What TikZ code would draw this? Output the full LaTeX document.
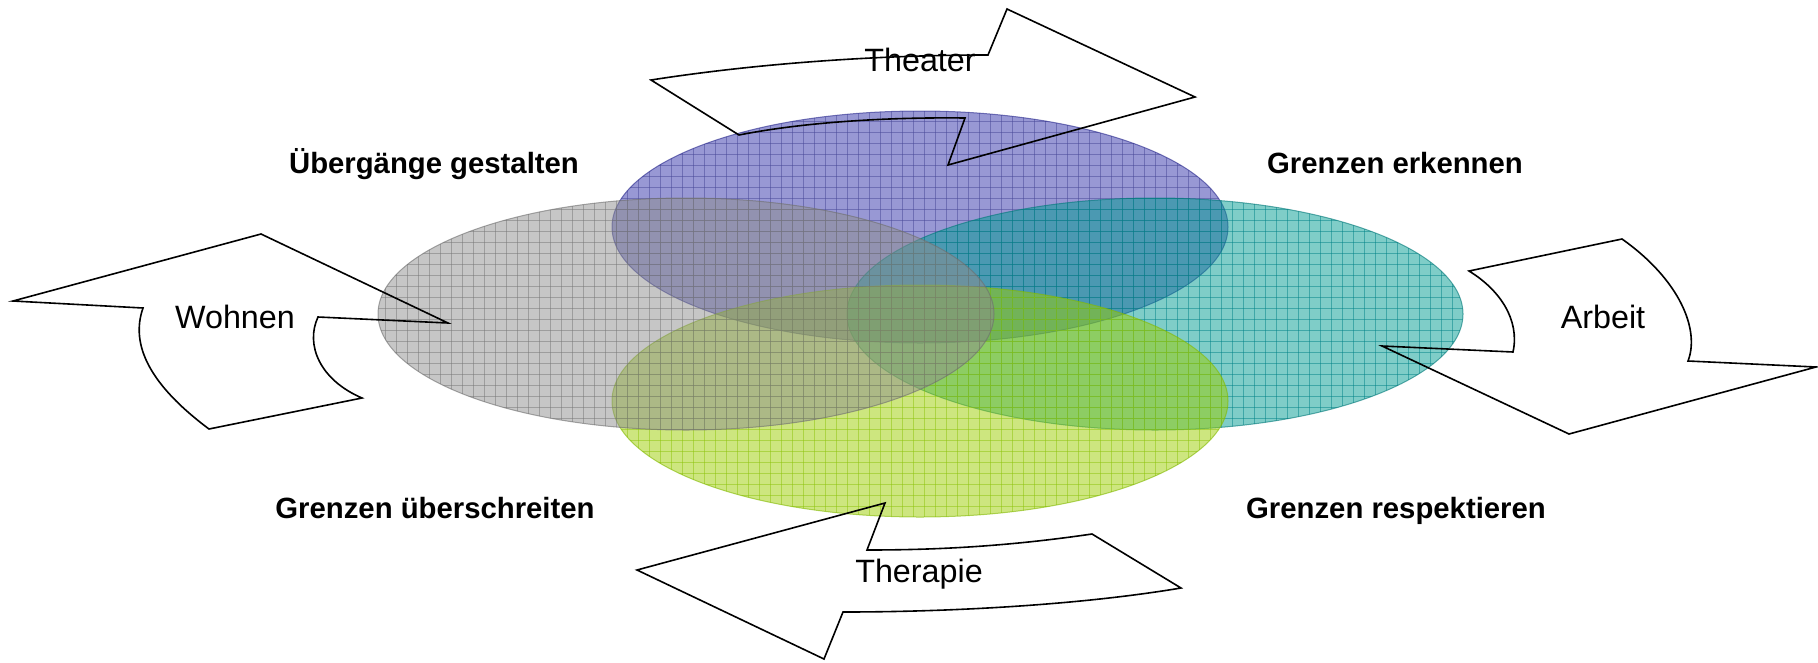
\documentclass[tikz,border=0pt]{standalone}
\usepackage{fontspec}
\setmainfont{Liberation Sans}
\definecolor{grayfill}{RGB}{141,141,141}
\definecolor{grayline}{RGB}{118,118,118}
\definecolor{grayedge}{RGB}{110,110,110}
\definecolor{bluefill}{RGB}{49,49,169}
\definecolor{blueline}{RGB}{70,70,150}
\definecolor{blueedge}{RGB}{40,40,140}
\definecolor{tealfill}{RGB}{0,155,145}
\definecolor{tealline}{RGB}{0,130,135}
\definecolor{tealedge}{RGB}{0,120,120}
\definecolor{greenfill}{RGB}{155,205,0}
\definecolor{greenline}{RGB}{140,195,10}
\definecolor{greenedge}{RGB}{130,185,0}
\newcommand{\drawblob}[5]{%
  \begin{scope}
    \fill[#3, fill opacity=0.5] (#1,#2) ellipse [x radius=308pt, y radius=116pt];
    \begin{scope}
      \clip (#1,#2) ellipse [x radius=308pt, y radius=116pt];
      \foreach \gx in {0,11,...,1815} \draw[#4, draw opacity=0.5, line width=1pt] (\gx,0) -- (\gx,662);
      \foreach \gy in {0,11,...,660} \draw[#4, draw opacity=0.5, line width=1pt] (0,\gy) -- (1818,\gy);
    \end{scope}
    \draw[#5, draw opacity=0.6, line width=1pt] (#1,#2) ellipse [x radius=308pt, y radius=116pt];
  \end{scope}}
\begin{document}
\begin{tikzpicture}[x=1pt,y=-1pt,
  arrowshape/.style={draw=black, line width=1.6pt, line join=miter},
  lbl/.style={font=\fontsize{32.3}{37}\selectfont, inner sep=0pt, anchor=base},
  blbl/.style={font=\bfseries\fontsize{29.3}{34}\selectfont, inner sep=0pt, anchor=base}]
\useasboundingbox (0,0) rectangle (1818,662);

% ellipses
\drawblob{920}{227}{bluefill}{blueline}{blueedge}
\drawblob{1155}{314}{tealfill}{tealline}{tealedge}
\drawblob{920}{401}{greenfill}{greenline}{greenedge}
\drawblob{686}{314}{grayfill}{grayline}{grayedge}

% arrows (outlines only)
\draw[arrowshape] (651,80) .. controls (760,63) and (880,55) .. (988,55)
  -- (1007,9) -- (1195,97) -- (948,165) -- (965,118)
  .. controls (880,117) and (800,123) .. (739,135) -- cycle;

\draw[arrowshape] (13,301) -- (261,234) -- (448,323) -- (318,317)
  .. controls (305,345) and (320,380) .. (362,398) -- (209,429)
  .. controls (150,385) and (130,345) .. (143,308) -- cycle;

\draw[arrowshape] (1469,271) -- (1622,239)
  .. controls (1680,280) and (1700,330) .. (1688,361) -- (1816,367)
  -- (1569,434) -- (1382,346) -- (1513,352)
  .. controls (1520,320) and (1500,290) .. (1469,271) -- cycle;

\draw[arrowshape] (885,503) -- (637,570) -- (824,659) -- (843,612)
  .. controls (950,612) and (1080,605) .. (1181,588) -- (1092,534)
  .. controls (1010,546) and (940,550) .. (867,550) -- cycle;

% labels
\node[lbl] (theater) at (920,71) {Theater};
\node[lbl] (wohnen) at (235,328) {Wohnen};
\node[lbl] (arbeit) at (1603,328) {Arbeit};
\node[lbl] (therapie) at (919,582) {Therapie};

\node[blbl] (uebergaenge) at (434,173) {Übergänge gestalten};
\node[blbl] (erkennen) at (1395,173) {Grenzen erkennen};
\node[blbl] (ueberschreiten) at (435,518) {Grenzen überschreiten};
\node[blbl] (respektieren) at (1396,518) {Grenzen respektieren};
\end{tikzpicture}
\end{document}
